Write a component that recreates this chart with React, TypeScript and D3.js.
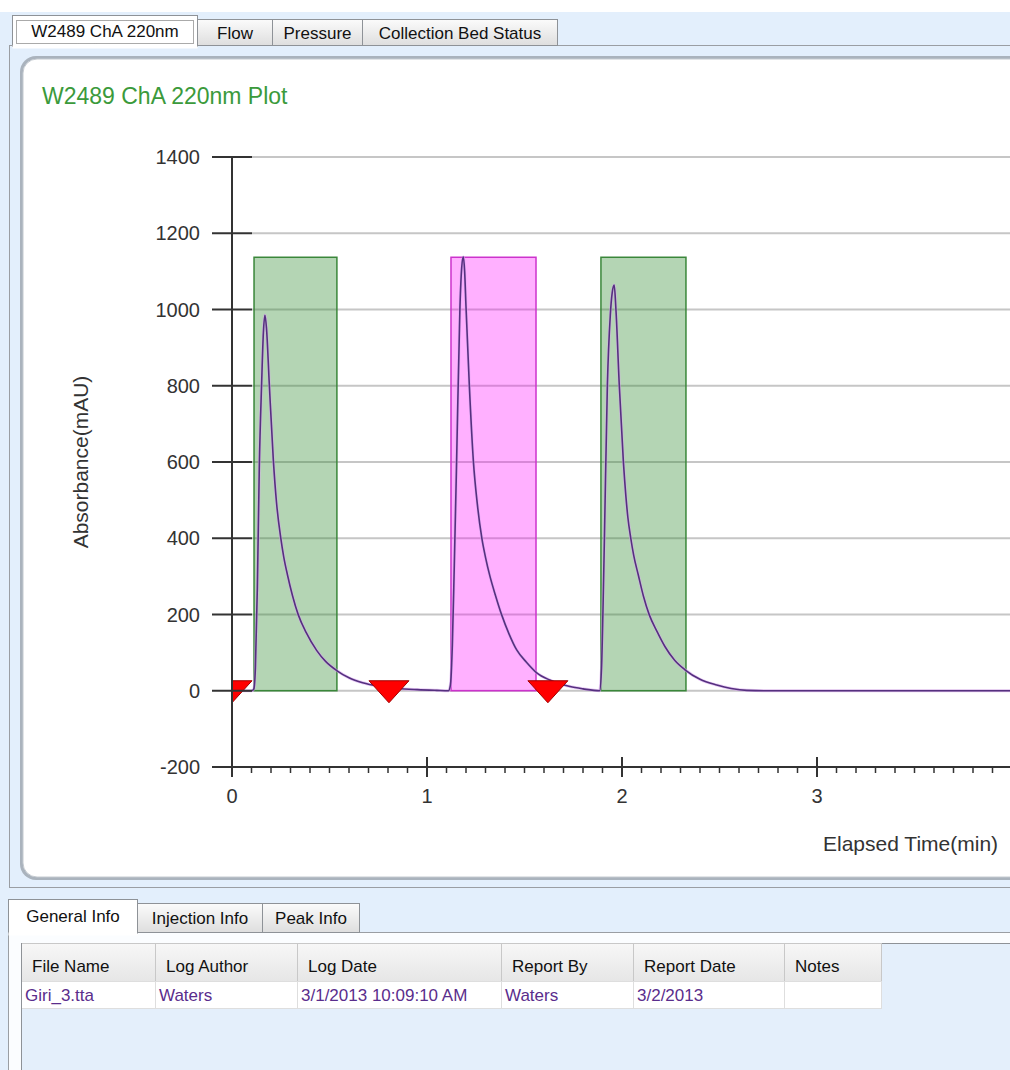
import React from 'react';
import * as d3 from 'd3';

const width = 1010;
const height = 1070;
const font = "'Liberation Sans', Arial, sans-serif";

// chromatogram trace
const timeMin = [
  0, 0.1, 0.112, 0.12, 0.13, 0.14, 0.152, 0.161, 0.169, 0.177, 0.191, 0.212, 0.228, 0.25, 0.265,
  0.284, 0.31, 0.34, 0.38, 0.434, 0.48, 0.537, 0.6, 0.67, 0.75, 0.85, 0.95, 1.05, 1.11,
  1.12, 1.13, 1.14, 1.152, 1.169, 1.178, 1.186, 1.193, 1.2, 1.217, 1.238, 1.258, 1.281, 1.3,
  1.323, 1.35, 1.383, 1.42, 1.46, 1.51, 1.563, 1.63, 1.733, 1.8, 1.885,
  1.895, 1.902, 1.91, 1.925, 1.94, 1.95, 1.96, 1.969, 1.986, 2.007, 2.02, 2.03, 2.045, 2.06, 2.083,
  2.11, 2.14, 2.18, 2.22, 2.27, 2.323, 2.4, 2.486, 2.56, 2.64, 2.75, 3.0, 3.5, 4.0,
];
const absorbance = [
  0, 0, 5, 60, 270, 587, 807, 940, 985, 950, 807, 605, 495, 401, 352,
  305, 250, 199, 153, 106, 77, 53, 34, 21, 12, 6, 3, 1, 0,
  15, 120, 330, 605, 1007, 1110, 1138, 1100, 1007, 802, 601, 490, 401, 350,
  300, 252, 199, 150, 107, 75, 47, 28, 11, 5, 0,
  60, 200, 405, 802, 985, 1045, 1064, 999, 802, 601, 510, 455, 400, 355, 305,
  248, 199, 155, 116, 80, 55, 30, 15, 6, 1, 0, 0, 0, 0,
];

// collected fractions
const fracStart = [0.113, 1.123, 1.892];
const fracEnd = [0.538, 1.559, 2.328];
const fracTop = 1137;
const fracKind = ['green', 'pink', 'green'];

// injection / event markers
const markerTimes = [0, 0.805, 1.62];

const yTicks = [-200, 0, 200, 400, 600, 800, 1000, 1200, 1400];
const xTicks = [0, 1, 2, 3];

const topTabs = ['W2489 ChA 220nm', 'Flow', 'Pressure', 'Collection Bed Status'];
const topTabEdges = [12, 197, 272, 362, 557];
const bottomTabs = ['General Info', 'Injection Info', 'Peak Info'];
const bottomTabEdges = [8, 137, 262, 359];

const columns = ['File Name', 'Log Author', 'Log Date', 'Report By', 'Report Date', 'Notes'];
const rowValues = ['Giri_3.tta', 'Waters', '3/1/2013 10:09:10 AM', 'Waters', '3/2/2013', ''];
const colEdges = [21, 155, 297, 501, 633, 784, 881];

const x = d3.scaleLinear().domain([0, 4]).range([232, 1012]);
const y = d3.scaleLinear().domain([-200, 1400]).range([767, 157]);

const points = timeMin.map((t, i) => [t, absorbance[i]] as [number, number]);
const trace = d3
  .line<[number, number]>()
  .x(d => x(d[0]))
  .y(d => y(d[1]))
  .curve(d3.curveMonotoneX)(points);

const minorTicks = d3.range(0, 40).map(i => i / 10).filter(v => !xTicks.includes(v));

function Tab({ label, x0, x1, active, top, bottom, size }) {
  const y0 = active ? top - 4 : top;
  return (
    <g>
      <rect
        x={x0}
        y={y0}
        width={x1 - x0}
        height={bottom - y0 + (active ? 1 : 0)}
        fill={active ? '#ffffff' : 'url(#tabGrad)'}
        stroke="#8e9297"
        strokeWidth={1}
      />
      {active && <rect x={x0} y={bottom} width={x1 - x0} height={3} fill="#ffffff" />}
      <text
        x={(x0 + x1) / 2}
        y={(y0 + bottom) / 2 + 6}
        textAnchor="middle"
        fontFamily={font}
        fontSize={size}
        fill="#111"
      >
        {label}
      </text>
    </g>
  );
}

export default function App() {
  return (
    <div style={{ position: 'absolute', left: 0, top: 0 }}>
      <svg width={width} height={height} style={{ display: 'block' }}>
        <defs>
          <linearGradient id="tabGrad" x1="0" y1="0" x2="0" y2="1">
            <stop offset="0" stopColor="#fbfbfb" />
            <stop offset="1" stopColor="#dedede" />
          </linearGradient>
          <linearGradient id="headGrad" x1="0" y1="0" x2="0" y2="1">
            <stop offset="0" stopColor="#f7f7f7" />
            <stop offset="1" stopColor="#e6e6e6" />
          </linearGradient>
          <clipPath id="plotClip">
            <rect x={232} y={140} width={800} height={640} />
          </clipPath>
        </defs>

        <rect width={width} height={height} fill="#ffffff" />
        <rect x={0} y={12} width={width} height={height - 12} fill="#e3effc" />

        {/* upper tab page */}
        <rect x={9.5} y={45.5} width={1010} height={842} fill="#e3effc" stroke="#9a9ea3" />
        {topTabs.map((t, i) => (
          <Tab
            key={t}
            label={t}
            x0={topTabEdges[i] + 0.5}
            x1={topTabEdges[i + 1] + 0.5}
            active={i === 0}
            top={19.5}
            bottom={45.5}
            size={17}
          />
        ))}
        <rect x={16.5} y={20.5} width={177} height={23} fill="none" stroke="#555" strokeDasharray="1,1" />

        {/* plot panel */}
        <rect x={20} y={56} width={1040} height={824} rx={16} fill="#aab3bd" />
        <rect x={23} y={59} width={1036} height={818} rx={14} fill="#ffffff" stroke="#c4cad0" />

        <text x={42} y={104} fontFamily={font} fontSize={23} fill="#3b9a3b">
          W2489 ChA 220nm Plot
        </text>

        {/* grid */}
        {yTicks.map(v => (
          <line key={v} x1={252} x2={width} y1={y(v)} y2={y(v)} stroke="#c6c6c6" strokeWidth={2} />
        ))}

        {/* fractions */}
        {fracStart.map((s, i) => (
          <rect
            key={i}
            x={x(s)}
            y={y(fracTop)}
            width={x(fracEnd[i]) - x(s)}
            height={y(0) - y(fracTop)}
            fill={fracKind[i] === 'pink' ? '#ff00ff' : '#2e8b2e'}
            fillOpacity={fracKind[i] === 'pink' ? 0.31 : 0.36}
            stroke={fracKind[i] === 'pink' ? '#cc33cc' : '#3a873a'}
            strokeWidth={1.5}
          />
        ))}

        <g clipPath="url(#plotClip)">
          <path d={trace} fill="none" stroke="#d9a6f0" strokeWidth={3} strokeOpacity={0.6} />
          <path d={trace} fill="none" stroke="#55307f" strokeWidth={1.6} />
          {markerTimes.map(t => (
            <path
              key={t}
              transform={`translate(${x(t)},${y(0)})`}
              d="M-20,-10L20,-10L0,12Z"
              fill="#ff0000"
              stroke="#a00000"
              strokeWidth={1}
            />
          ))}
        </g>

        {/* y axis */}
        <line x1={232} x2={232} y1={y(1400)} y2={y(-200)} stroke="#333" strokeWidth={2} />
        {yTicks.map(v => (
          <g key={v} transform={`translate(0,${y(v)})`}>
            <line x1={212} x2={252} stroke="#333" strokeWidth={2} />
            <text x={200} dy={7} textAnchor="end" fontFamily={font} fontSize={20} fill="#333">
              {v}
            </text>
          </g>
        ))}

        {/* x axis */}
        <line x1={212} x2={width} y1={y(-200)} y2={y(-200)} stroke="#333" strokeWidth={2} />
        {minorTicks.map(v => (
          <line key={v} x1={x(v)} x2={x(v)} y1={y(-200)} y2={y(-200) + 6} stroke="#333" strokeWidth={1.5} />
        ))}
        {xTicks.map(v => (
          <g key={v} transform={`translate(${x(v)},${y(-200)})`}>
            <line y1={-10} y2={10} stroke="#333" strokeWidth={2} />
            <text y={36} textAnchor="middle" fontFamily={font} fontSize={20} fill="#333">
              {v}
            </text>
          </g>
        ))}

        <text
          transform="translate(88,462) rotate(-90)"
          textAnchor="middle"
          fontFamily={font}
          fontSize={21}
          fill="#333"
        >
          Absorbance(mAU)
        </text>
        <text x={823} y={851} fontFamily={font} fontSize={21} fill="#333">
          Elapsed Time(min)
        </text>

        {/* lower tab page */}
        <rect x={8.5} y={932.5} width={1010} height={150} fill="#fbfdff" stroke="#9a9ea3" />
        {bottomTabs.map((t, i) => (
          <Tab
            key={t}
            label={t}
            x0={bottomTabEdges[i] + 0.5}
            x1={bottomTabEdges[i + 1] + 0.5}
            active={i === 0}
            top={903.5}
            bottom={932.5}
            size={17}
          />
        ))}

        {/* table */}
        <rect x={21.5} y={943.5} width={1000} height={140} fill="#e4effb" stroke="#8e9297" />
        {columns.map((c, i) => (
          <g key={c}>
            <rect
              x={colEdges[i] + 0.5}
              y={943.5}
              width={colEdges[i + 1] - colEdges[i]}
              height={38}
              fill="url(#headGrad)"
              stroke="#c8c8c8"
            />
            <rect
              x={colEdges[i] + 0.5}
              y={981.5}
              width={colEdges[i + 1] - colEdges[i]}
              height={27}
              fill="#ffffff"
              stroke="#dedede"
            />
            <text x={colEdges[i] + 11} y={972} fontFamily={font} fontSize={17} fill="#111">
              {c}
            </text>
            <text x={colEdges[i] + 4} y={1001} fontFamily={font} fontSize={17} fill="#5a2d8c">
              {rowValues[i]}
            </text>
          </g>
        ))}
        <line x1={21.5} x2={21.5} y1={943} y2={height} stroke="#8e9297" />
      </svg>
    </div>
  );
}
